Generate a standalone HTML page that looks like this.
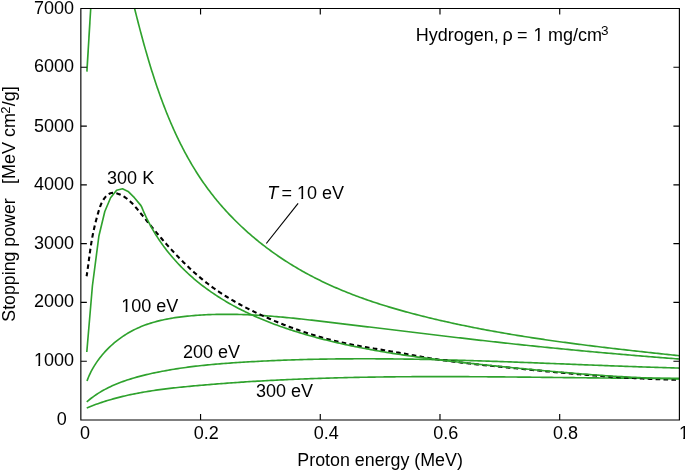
<!DOCTYPE html>
<html><head><meta charset="utf-8"><style>
html,body{margin:0;padding:0;background:#fff;}
svg{display:block;}
text{font-family:"Liberation Sans",sans-serif;font-size:18px;fill:#000;}
</style></head><body>
<svg width="685" height="470" viewBox="0 0 685 470" style="will-change:transform">
<rect width="685" height="470" fill="#fff"/>
<defs><clipPath id="o0" clipPathUnits="userSpaceOnUse"><rect x="32.96" y="350.61" width="12" height="13.05"/><rect x="38.31" y="363.61" width="1.8" height="3"/></clipPath><clipPath id="o1" clipPathUnits="userSpaceOnUse"><rect x="677.90" y="423.80" width="12" height="13.05"/><rect x="683.25" y="436.80" width="1.8" height="3"/></clipPath><clipPath id="o2" clipPathUnits="userSpaceOnUse"><rect x="120.20" y="296.80" width="12" height="13.05"/><rect x="125.55" y="309.80" width="1.8" height="3"/></clipPath><clipPath id="o3" clipPathUnits="userSpaceOnUse"><rect x="296.01" y="183.80" width="12" height="13.05"/><rect x="301.36" y="196.80" width="1.8" height="3"/></clipPath><clipPath id="o4" clipPathUnits="userSpaceOnUse"><rect x="532.40" y="25.60" width="12" height="13.05"/><rect x="537.75" y="38.60" width="1.8" height="3"/></clipPath><clipPath id="c"><rect x="80.85" y="8.5" width="598.55" height="411.5"/></clipPath></defs>
<g clip-path="url(#c)">
<path d="M86.90,71.60 L90.80,7.00" fill="none" stroke="#2fa22d" stroke-width="1.65" />
<path d="M133.04,2.26 L133.46,3.95 L133.89,5.65 L134.31,7.35 L134.73,9.05 L135.16,10.75 L135.59,12.46 L136.02,14.17 L136.45,15.88 L136.89,17.59 L137.33,19.30 L137.77,21.02 L138.21,22.74 L138.66,24.45 L139.10,26.17 L139.55,27.90 L140.01,29.62 L140.46,31.34 L140.92,33.07 L141.38,34.80 L141.85,36.52 L142.32,38.25 L142.79,39.98 L143.26,41.71 L143.74,43.44 L144.22,45.17 L144.70,46.90 L145.19,48.64 L145.68,50.37 L146.18,52.10 L146.68,53.83 L147.18,55.57 L147.69,57.30 L148.20,59.03 L148.71,60.76 L149.23,62.49 L149.76,64.22 L150.28,65.96 L150.81,67.69 L151.35,69.42 L151.89,71.14 L152.44,72.87 L152.99,74.60 L153.54,76.32 L154.10,78.05 L154.66,79.77 L155.23,81.50 L155.80,83.22 L156.38,84.94 L156.97,86.65 L157.56,88.37 L158.15,90.08 L158.75,91.80 L159.36,93.51 L159.97,95.22 L160.58,96.92 L161.20,98.63 L161.83,100.33 L162.46,102.03 L163.10,103.73 L163.75,105.42 L164.40,107.12 L165.06,108.81 L165.72,110.49 L166.39,112.18 L167.06,113.86 L167.75,115.54 L168.43,117.21 L169.13,118.88 L169.83,120.55 L170.54,122.22 L171.25,123.88 L171.97,125.54 L172.70,127.19 L173.44,128.85 L174.18,130.49 L174.93,132.14 L175.69,133.78 L176.45,135.41 L177.22,137.04 L178.00,138.67 L178.78,140.29 L179.58,141.91 L180.38,143.52 L181.19,145.13 L182.00,146.74 L182.83,148.34 L183.66,149.93 L184.50,151.52 L185.34,153.11 L186.20,154.69 L187.06,156.26 L187.94,157.83 L188.82,159.40 L189.71,160.95 L190.60,162.51 L191.51,164.06 L192.42,165.60 L193.35,167.13 L194.28,168.66 L195.22,170.19 L196.17,171.71 L197.13,173.22 L198.09,174.72 L199.07,176.22 L200.05,177.72 L201.05,179.20 L202.05,180.68 L203.07,182.16 L204.09,183.62 L205.12,185.08 L206.16,186.53 L207.22,187.98 L208.28,189.42 L209.35,190.85 L210.43,192.28 L211.52,193.69 L212.62,195.10 L213.73,196.51 L214.85,197.90 L215.97,199.29 L217.11,200.67 L218.26,202.04 L219.41,203.41 L220.57,204.77 L221.75,206.12 L222.93,207.47 L224.12,208.80 L225.32,210.13 L226.52,211.45 L227.74,212.77 L228.97,214.08 L230.20,215.38 L231.44,216.67 L232.69,217.95 L233.95,219.23 L235.21,220.50 L236.48,221.76 L237.77,223.01 L239.06,224.26 L240.35,225.50 L241.66,226.73 L242.97,227.95 L244.29,229.17 L245.62,230.38 L246.95,231.58 L248.29,232.77 L249.64,233.95 L251.00,235.13 L252.36,236.30 L253.73,237.46 L255.11,238.61 L256.50,239.75 L257.89,240.89 L259.29,242.02 L260.69,243.14 L262.10,244.25 L263.52,245.36 L264.95,246.45 L266.38,247.54 L267.81,248.62 L269.26,249.69 L270.71,250.76 L272.16,251.81 L273.62,252.86 L275.09,253.90 L276.56,254.93 L278.04,255.95 L279.53,256.96 L281.02,257.97 L282.52,258.97 L284.02,259.96 L285.53,260.94 L287.04,261.91 L288.56,262.87 L290.08,263.83 L291.61,264.77 L293.14,265.71 L294.68,266.64 L296.22,267.56 L297.77,268.48 L299.32,269.38 L300.88,270.28 L302.44,271.16 L304.01,272.04 L305.58,272.91 L307.16,273.77 L308.74,274.62 L310.32,275.47 L311.91,276.30 L313.50,277.13 L315.10,277.95 L316.70,278.76 L318.31,279.56 L319.91,280.35 L321.53,281.14 L323.14,281.92 L324.77,282.69 L326.39,283.45 L328.02,284.20 L329.65,284.95 L331.29,285.69 L332.93,286.42 L334.57,287.15 L336.21,287.87 L337.86,288.58 L339.52,289.28 L341.17,289.97 L342.83,290.66 L344.50,291.34 L346.16,292.02 L347.83,292.69 L349.50,293.35 L351.18,294.00 L352.85,294.65 L354.54,295.29 L356.22,295.93 L357.91,296.56 L359.59,297.18 L361.29,297.79 L362.98,298.40 L364.68,299.01 L366.38,299.60 L368.08,300.19 L369.78,300.78 L371.49,301.36 L373.20,301.93 L374.91,302.50 L376.62,303.06 L378.34,303.62 L380.06,304.17 L381.77,304.72 L383.50,305.26 L385.22,305.80 L386.94,306.33 L388.67,306.85 L390.40,307.37 L392.13,307.89 L393.86,308.40 L395.60,308.90 L397.33,309.40 L399.07,309.90 L400.81,310.39 L402.55,310.88 L404.29,311.36 L406.03,311.84 L407.77,312.31 L409.52,312.78 L411.26,313.24 L413.01,313.71 L414.76,314.16 L416.51,314.62 L418.26,315.06 L420.01,315.51 L421.76,315.95 L423.51,316.39 L425.26,316.82 L427.02,317.25 L428.77,317.68 L430.52,318.11 L432.28,318.53 L434.03,318.94 L435.79,319.36 L437.55,319.77 L439.30,320.18 L441.06,320.58 L442.82,320.98 L444.57,321.38 L446.33,321.78 L448.09,322.17 L449.85,322.56 L451.61,322.94 L453.37,323.33 L455.13,323.71 L456.89,324.08 L458.65,324.46 L460.41,324.83 L462.17,325.20 L463.93,325.56 L465.70,325.93 L467.46,326.29 L469.22,326.64 L470.98,327.00 L472.75,327.35 L474.51,327.70 L476.28,328.04 L478.04,328.39 L479.81,328.73 L481.57,329.07 L483.34,329.40 L485.10,329.74 L486.87,330.07 L488.64,330.40 L490.41,330.72 L492.17,331.04 L493.94,331.37 L495.71,331.68 L497.48,332.00 L499.25,332.31 L501.02,332.62 L502.79,332.93 L504.56,333.24 L506.33,333.54 L508.10,333.85 L509.87,334.15 L511.64,334.44 L513.41,334.74 L515.18,335.03 L516.96,335.32 L518.73,335.61 L520.50,335.90 L522.28,336.18 L524.05,336.46 L525.82,336.74 L527.60,337.02 L529.37,337.30 L531.15,337.57 L532.92,337.85 L534.70,338.12 L536.48,338.39 L538.25,338.65 L540.03,338.92 L541.81,339.18 L543.58,339.44 L545.36,339.70 L547.14,339.96 L548.92,340.21 L550.69,340.47 L552.47,340.72 L554.25,340.97 L556.03,341.22 L557.81,341.47 L559.59,341.71 L561.37,341.96 L563.15,342.20 L564.93,342.44 L566.71,342.68 L568.49,342.92 L570.28,343.16 L572.06,343.39 L573.84,343.63 L575.62,343.86 L577.41,344.09 L579.19,344.32 L580.97,344.55 L582.75,344.78 L584.54,345.00 L586.32,345.23 L588.11,345.45 L589.89,345.67 L591.68,345.89 L593.46,346.11 L595.25,346.33 L597.03,346.55 L598.82,346.77 L600.60,346.98 L602.39,347.20 L604.18,347.41 L605.96,347.62 L607.75,347.83 L609.54,348.04 L611.33,348.25 L613.11,348.46 L614.90,348.67 L616.69,348.88 L618.48,349.08 L620.27,349.29 L622.06,349.49 L623.85,349.69 L625.63,349.90 L627.42,350.10 L629.21,350.30 L631.00,350.50 L632.80,350.70 L634.59,350.90 L636.38,351.10 L638.17,351.30 L639.96,351.49 L641.75,351.69 L643.54,351.89 L645.33,352.08 L647.13,352.28 L648.92,352.47 L650.71,352.67 L652.50,352.86 L654.30,353.06 L656.09,353.25 L657.88,353.44 L659.68,353.64 L661.47,353.83 L663.26,354.02 L665.06,354.21 L666.85,354.40 L668.65,354.60 L670.44,354.79 L672.24,354.98 L674.03,355.17 L675.83,355.36 L677.62,355.55 L679.42,355.74" fill="none" stroke="#2fa22d" stroke-width="1.65" />
<path d="M86.74,407.95 L88.60,407.19 L90.47,406.45 L92.34,405.73 L94.21,405.02 L96.09,404.34 L97.98,403.67 L99.86,403.01 L101.76,402.38 L103.65,401.76 L105.55,401.16 L107.45,400.57 L109.36,400.00 L111.27,399.44 L113.18,398.90 L115.10,398.37 L117.02,397.86 L118.94,397.36 L120.87,396.88 L122.79,396.41 L124.73,395.95 L126.66,395.51 L128.60,395.07 L130.54,394.65 L132.48,394.25 L134.43,393.85 L136.37,393.47 L138.32,393.09 L140.28,392.73 L142.23,392.38 L144.19,392.04 L146.15,391.71 L148.11,391.38 L150.07,391.07 L152.03,390.77 L154.00,390.47 L155.97,390.19 L157.94,389.91 L159.91,389.64 L161.88,389.37 L163.86,389.12 L165.83,388.87 L167.81,388.63 L169.79,388.39 L171.76,388.16 L173.74,387.94 L175.73,387.72 L177.71,387.50 L179.69,387.30 L181.67,387.09 L183.66,386.89 L185.64,386.70 L187.62,386.50 L189.61,386.31 L191.60,386.13 L193.58,385.94 L195.57,385.76 L197.55,385.59 L199.54,385.41 L201.52,385.23 L203.51,385.06 L205.50,384.89 L207.48,384.72 L209.47,384.56 L211.46,384.40 L213.44,384.23 L215.43,384.07 L217.42,383.92 L219.40,383.76 L221.39,383.61 L223.38,383.46 L225.37,383.31 L227.35,383.16 L229.34,383.02 L231.33,382.87 L233.32,382.73 L235.30,382.60 L237.29,382.46 L239.28,382.32 L241.27,382.19 L243.25,382.06 L245.24,381.93 L247.23,381.80 L249.22,381.68 L251.21,381.55 L253.20,381.43 L255.18,381.31 L257.17,381.19 L259.16,381.08 L261.15,380.96 L263.14,380.85 L265.13,380.74 L267.12,380.63 L269.11,380.52 L271.10,380.42 L273.08,380.32 L275.07,380.21 L277.06,380.11 L279.05,380.01 L281.04,379.92 L283.03,379.82 L285.02,379.73 L287.01,379.64 L289.00,379.55 L290.99,379.46 L292.98,379.37 L294.97,379.29 L296.96,379.20 L298.95,379.12 L300.94,379.04 L302.93,378.96 L304.92,378.89 L306.91,378.81 L308.90,378.74 L310.89,378.66 L312.88,378.59 L314.87,378.52 L316.86,378.45 L318.85,378.39 L320.84,378.32 L322.84,378.26 L324.83,378.20 L326.82,378.13 L328.81,378.07 L330.80,378.02 L332.79,377.96 L334.78,377.90 L336.77,377.85 L338.76,377.80 L340.76,377.75 L342.75,377.70 L344.74,377.65 L346.73,377.60 L348.72,377.55 L350.71,377.51 L352.70,377.47 L354.70,377.42 L356.69,377.38 L358.68,377.34 L360.67,377.30 L362.66,377.27 L364.65,377.23 L366.65,377.20 L368.64,377.16 L370.63,377.13 L372.62,377.10 L374.61,377.07 L376.60,377.04 L378.60,377.01 L380.59,376.98 L382.58,376.96 L384.57,376.93 L386.57,376.91 L388.56,376.89 L390.55,376.86 L392.54,376.84 L394.53,376.82 L396.53,376.80 L398.52,376.79 L400.51,376.77 L402.50,376.75 L404.50,376.74 L406.49,376.72 L408.48,376.71 L410.47,376.70 L412.47,376.69 L414.46,376.68 L416.45,376.67 L418.44,376.66 L420.44,376.65 L422.43,376.65 L424.42,376.64 L426.41,376.63 L428.41,376.63 L430.40,376.63 L432.39,376.62 L434.39,376.62 L436.38,376.62 L438.37,376.62 L440.36,376.62 L442.36,376.62 L444.35,376.62 L446.34,376.63 L448.33,376.63 L450.33,376.63 L452.32,376.64 L454.31,376.64 L456.31,376.65 L458.30,376.65 L460.29,376.66 L462.28,376.67 L464.28,376.68 L466.27,376.68 L468.26,376.69 L470.26,376.70 L472.25,376.71 L474.24,376.72 L476.23,376.74 L478.23,376.75 L480.22,376.76 L482.21,376.77 L484.21,376.79 L486.20,376.80 L488.19,376.81 L490.18,376.83 L492.18,376.84 L494.17,376.86 L496.16,376.88 L498.16,376.89 L500.15,376.91 L502.14,376.93 L504.13,376.94 L506.13,376.96 L508.12,376.98 L510.11,377.00 L512.11,377.02 L514.10,377.03 L516.09,377.05 L518.08,377.07 L520.08,377.09 L522.07,377.11 L524.06,377.13 L526.05,377.15 L528.05,377.17 L530.04,377.19 L532.03,377.22 L534.03,377.24 L536.02,377.26 L538.01,377.28 L540.00,377.30 L542.00,377.32 L543.99,377.34 L545.98,377.37 L547.97,377.39 L549.96,377.41 L551.96,377.43 L553.95,377.45 L555.94,377.48 L557.93,377.50 L559.93,377.52 L561.92,377.54 L563.91,377.57 L565.90,377.59 L567.90,377.61 L569.89,377.63 L571.88,377.65 L573.87,377.68 L575.86,377.70 L577.86,377.72 L579.85,377.74 L581.84,377.76 L583.83,377.78 L585.82,377.80 L587.81,377.83 L589.81,377.85 L591.80,377.87 L593.79,377.89 L595.78,377.91 L597.77,377.93 L599.76,377.95 L601.76,377.97 L603.75,377.99 L605.74,378.01 L607.73,378.02 L609.72,378.04 L611.71,378.06 L613.70,378.08 L615.69,378.10 L617.69,378.11 L619.68,378.13 L621.67,378.15 L623.66,378.16 L625.65,378.18 L627.64,378.19 L629.63,378.21 L631.62,378.22 L633.61,378.24 L635.60,378.25 L637.59,378.26 L639.58,378.28 L641.57,378.29 L643.56,378.30 L645.55,378.31 L647.55,378.32 L649.54,378.33 L651.53,378.34 L653.52,378.35 L655.51,378.36 L657.50,378.37 L659.49,378.37 L661.48,378.38 L663.46,378.39 L665.45,378.39 L667.44,378.40 L669.43,378.40 L671.42,378.41 L673.41,378.41 L675.40,378.41 L677.39,378.41 L679.38,378.41" fill="none" stroke="#2fa22d" stroke-width="1.65" />
<path d="M86.73,401.85 L88.30,400.53 L89.89,399.25 L91.50,398.01 L93.13,396.80 L94.77,395.63 L96.44,394.50 L98.13,393.41 L99.83,392.35 L101.55,391.32 L103.29,390.33 L105.04,389.37 L106.81,388.44 L108.59,387.54 L110.38,386.68 L112.19,385.84 L114.01,385.03 L115.85,384.24 L117.69,383.48 L119.55,382.75 L121.42,382.04 L123.30,381.36 L125.18,380.70 L127.08,380.06 L128.98,379.44 L130.90,378.84 L132.82,378.26 L134.74,377.70 L136.68,377.15 L138.61,376.63 L140.56,376.11 L142.50,375.62 L144.45,375.13 L146.41,374.66 L148.36,374.21 L150.32,373.76 L152.28,373.32 L154.25,372.90 L156.21,372.49 L158.18,372.08 L160.15,371.69 L162.12,371.31 L164.09,370.94 L166.06,370.57 L168.04,370.22 L170.01,369.88 L171.99,369.54 L173.97,369.22 L175.95,368.90 L177.94,368.59 L179.92,368.29 L181.91,368.00 L183.89,367.72 L185.88,367.45 L187.87,367.18 L189.86,366.92 L191.85,366.67 L193.85,366.42 L195.84,366.19 L197.84,365.96 L199.83,365.73 L201.83,365.52 L203.83,365.31 L205.83,365.10 L207.83,364.90 L209.83,364.71 L211.83,364.52 L213.83,364.34 L215.83,364.16 L217.84,363.99 L219.84,363.83 L221.84,363.66 L223.85,363.51 L225.85,363.35 L227.86,363.20 L229.87,363.06 L231.87,362.92 L233.88,362.78 L235.88,362.64 L237.89,362.51 L239.90,362.39 L241.90,362.26 L243.91,362.14 L245.92,362.02 L247.93,361.90 L249.93,361.78 L251.94,361.67 L253.95,361.56 L255.95,361.45 L257.96,361.35 L259.97,361.24 L261.97,361.14 L263.98,361.05 L265.99,360.95 L268.00,360.86 L270.00,360.76 L272.01,360.68 L274.02,360.59 L276.02,360.50 L278.03,360.42 L280.04,360.34 L282.04,360.26 L284.05,360.19 L286.06,360.11 L288.07,360.04 L290.07,359.97 L292.08,359.91 L294.09,359.84 L296.09,359.78 L298.10,359.72 L300.11,359.66 L302.11,359.60 L304.12,359.55 L306.13,359.49 L308.13,359.44 L310.14,359.39 L312.15,359.35 L314.16,359.30 L316.16,359.26 L318.17,359.22 L320.18,359.18 L322.18,359.14 L324.19,359.11 L326.20,359.08 L328.20,359.04 L330.21,359.01 L332.22,358.99 L334.23,358.96 L336.23,358.94 L338.24,358.91 L340.25,358.89 L342.25,358.87 L344.26,358.86 L346.27,358.84 L348.27,358.83 L350.28,358.82 L352.29,358.81 L354.29,358.80 L356.30,358.79 L358.31,358.78 L360.32,358.78 L362.32,358.78 L364.33,358.78 L366.34,358.78 L368.34,358.78 L370.35,358.79 L372.36,358.79 L374.36,358.80 L376.37,358.81 L378.38,358.82 L380.38,358.83 L382.39,358.84 L384.40,358.85 L386.41,358.87 L388.41,358.89 L390.42,358.91 L392.43,358.93 L394.43,358.95 L396.44,358.97 L398.45,358.99 L400.45,359.02 L402.46,359.04 L404.47,359.07 L406.47,359.10 L408.48,359.13 L410.49,359.16 L412.49,359.19 L414.50,359.23 L416.51,359.26 L418.52,359.30 L420.52,359.34 L422.53,359.37 L424.54,359.41 L426.54,359.45 L428.55,359.50 L430.56,359.54 L432.56,359.58 L434.57,359.63 L436.58,359.67 L438.58,359.72 L440.59,359.77 L442.60,359.82 L444.61,359.87 L446.61,359.92 L448.62,359.97 L450.63,360.02 L452.63,360.07 L454.64,360.13 L456.65,360.18 L458.65,360.24 L460.66,360.30 L462.67,360.35 L464.67,360.41 L466.68,360.47 L468.69,360.53 L470.69,360.59 L472.70,360.65 L474.71,360.72 L476.72,360.78 L478.72,360.84 L480.73,360.91 L482.74,360.97 L484.74,361.04 L486.75,361.10 L488.76,361.17 L490.76,361.24 L492.77,361.31 L494.78,361.37 L496.78,361.44 L498.79,361.51 L500.80,361.58 L502.81,361.65 L504.81,361.73 L506.82,361.80 L508.83,361.87 L510.83,361.94 L512.84,362.02 L514.85,362.09 L516.85,362.16 L518.86,362.24 L520.87,362.31 L522.87,362.39 L524.88,362.46 L526.89,362.54 L528.89,362.61 L530.90,362.69 L532.91,362.77 L534.92,362.84 L536.92,362.92 L538.93,363.00 L540.94,363.08 L542.94,363.15 L544.95,363.23 L546.96,363.31 L548.96,363.39 L550.97,363.47 L552.98,363.55 L554.98,363.62 L556.99,363.70 L559.00,363.78 L561.01,363.86 L563.01,363.94 L565.02,364.02 L567.03,364.10 L569.03,364.18 L571.04,364.25 L573.05,364.33 L575.05,364.41 L577.06,364.49 L579.07,364.57 L581.07,364.65 L583.08,364.73 L585.09,364.81 L587.09,364.88 L589.10,364.96 L591.11,365.04 L593.12,365.12 L595.12,365.20 L597.13,365.27 L599.14,365.35 L601.14,365.43 L603.15,365.50 L605.16,365.58 L607.16,365.66 L609.17,365.73 L611.18,365.81 L613.18,365.88 L615.19,365.96 L617.20,366.03 L619.21,366.11 L621.21,366.18 L623.22,366.25 L625.23,366.32 L627.23,366.40 L629.24,366.47 L631.25,366.54 L633.25,366.61 L635.26,366.68 L637.27,366.75 L639.27,366.82 L641.28,366.89 L643.29,366.96 L645.30,367.02 L647.30,367.09 L649.31,367.16 L651.32,367.22 L653.32,367.29 L655.33,367.35 L657.34,367.42 L659.34,367.48 L661.35,367.54 L663.36,367.60 L665.36,367.66 L667.37,367.72 L669.38,367.78 L671.38,367.84 L673.39,367.90 L675.40,367.96 L677.41,368.01 L679.41,368.07" fill="none" stroke="#2fa22d" stroke-width="1.65" />
<path d="M87.00,381.06 L87.70,379.16 L88.45,377.27 L89.25,375.40 L90.11,373.55 L91.01,371.72 L91.97,369.90 L92.97,368.11 L94.01,366.33 L95.11,364.58 L96.24,362.85 L97.42,361.14 L98.64,359.45 L99.90,357.79 L101.19,356.16 L102.53,354.55 L103.90,352.97 L105.31,351.42 L106.76,349.89 L108.23,348.40 L109.74,346.93 L111.28,345.50 L112.85,344.10 L114.45,342.73 L116.08,341.39 L117.73,340.09 L119.41,338.82 L121.11,337.59 L122.84,336.39 L124.59,335.24 L126.35,334.12 L128.14,333.04 L129.95,332.00 L131.77,331.00 L133.61,330.04 L135.47,329.12 L137.34,328.24 L139.22,327.40 L141.12,326.59 L143.04,325.83 L144.96,325.09 L146.90,324.40 L148.85,323.73 L150.81,323.10 L152.79,322.50 L154.77,321.93 L156.76,321.39 L158.76,320.88 L160.77,320.39 L162.79,319.94 L164.82,319.50 L166.85,319.10 L168.89,318.71 L170.93,318.35 L172.98,318.01 L175.03,317.69 L177.09,317.39 L179.15,317.11 L181.22,316.85 L183.29,316.60 L185.36,316.37 L187.43,316.16 L189.50,315.95 L191.57,315.77 L193.64,315.59 L195.71,315.42 L197.79,315.27 L199.86,315.13 L201.93,315.00 L204.00,314.89 L206.08,314.78 L208.15,314.69 L210.22,314.60 L212.29,314.53 L214.37,314.47 L216.44,314.42 L218.51,314.37 L220.58,314.34 L222.66,314.32 L224.73,314.31 L226.80,314.31 L228.87,314.31 L230.95,314.33 L233.02,314.36 L235.09,314.39 L237.17,314.43 L239.24,314.48 L241.31,314.54 L243.38,314.61 L245.46,314.69 L247.53,314.77 L249.60,314.86 L251.67,314.96 L253.75,315.06 L255.82,315.17 L257.89,315.29 L259.96,315.42 L262.04,315.55 L264.11,315.69 L266.18,315.83 L268.25,315.98 L270.32,316.14 L272.40,316.30 L274.47,316.47 L276.54,316.64 L278.61,316.82 L280.68,317.00 L282.75,317.19 L284.82,317.38 L286.90,317.57 L288.97,317.77 L291.04,317.98 L293.11,318.19 L295.18,318.40 L297.25,318.61 L299.32,318.83 L301.39,319.05 L303.46,319.27 L305.53,319.50 L307.60,319.73 L309.67,319.96 L311.73,320.19 L313.80,320.43 L315.87,320.66 L317.94,320.90 L320.01,321.14 L322.07,321.38 L324.14,321.62 L326.21,321.87 L328.28,322.11 L330.34,322.36 L332.41,322.60 L334.48,322.85 L336.54,323.09 L338.61,323.34 L340.67,323.58 L342.74,323.83 L344.80,324.08 L346.87,324.32 L348.93,324.57 L351.00,324.82 L353.06,325.07 L355.13,325.31 L357.19,325.56 L359.25,325.81 L361.32,326.06 L363.38,326.31 L365.44,326.56 L367.51,326.81 L369.57,327.05 L371.63,327.30 L373.69,327.55 L375.76,327.80 L377.82,328.05 L379.88,328.30 L381.94,328.55 L384.00,328.80 L386.07,329.05 L388.13,329.30 L390.19,329.55 L392.25,329.80 L394.31,330.05 L396.37,330.30 L398.43,330.55 L400.50,330.80 L402.56,331.05 L404.62,331.30 L406.68,331.55 L408.74,331.80 L410.80,332.05 L412.86,332.30 L414.92,332.54 L416.98,332.79 L419.04,333.04 L421.10,333.29 L423.16,333.54 L425.22,333.78 L427.28,334.03 L429.34,334.28 L431.40,334.52 L433.47,334.77 L435.53,335.02 L437.59,335.26 L439.65,335.51 L441.71,335.75 L443.77,336.00 L445.83,336.24 L447.89,336.48 L449.95,336.73 L452.01,336.97 L454.07,337.21 L456.13,337.46 L458.19,337.70 L460.25,337.94 L462.32,338.18 L464.38,338.42 L466.44,338.66 L468.50,338.90 L470.56,339.13 L472.62,339.37 L474.68,339.61 L476.75,339.84 L478.81,340.08 L480.87,340.31 L482.93,340.55 L484.99,340.78 L487.06,341.02 L489.12,341.25 L491.18,341.48 L493.24,341.71 L495.31,341.94 L497.37,342.17 L499.43,342.40 L501.50,342.63 L503.56,342.85 L505.63,343.08 L507.69,343.30 L509.75,343.53 L511.82,343.75 L513.88,343.97 L515.95,344.20 L518.01,344.42 L520.08,344.64 L522.14,344.86 L524.21,345.07 L526.28,345.29 L528.34,345.51 L530.41,345.72 L532.48,345.94 L534.54,346.15 L536.61,346.36 L538.68,346.57 L540.74,346.78 L542.81,346.99 L544.88,347.20 L546.95,347.41 L549.02,347.62 L551.08,347.82 L553.15,348.03 L555.22,348.23 L557.29,348.44 L559.36,348.64 L561.43,348.84 L563.49,349.04 L565.56,349.24 L567.63,349.44 L569.70,349.64 L571.77,349.84 L573.84,350.04 L575.91,350.23 L577.98,350.43 L580.05,350.62 L582.12,350.82 L584.19,351.01 L586.26,351.20 L588.33,351.39 L590.40,351.58 L592.47,351.77 L594.54,351.96 L596.61,352.15 L598.68,352.33 L600.75,352.52 L602.82,352.71 L604.89,352.89 L606.96,353.07 L609.03,353.26 L611.10,353.44 L613.17,353.62 L615.24,353.80 L617.31,353.98 L619.38,354.16 L621.45,354.34 L623.52,354.52 L625.59,354.69 L627.66,354.87 L629.73,355.04 L631.80,355.22 L633.87,355.39 L635.94,355.56 L638.01,355.74 L640.08,355.91 L642.15,356.08 L644.22,356.25 L646.29,356.42 L648.36,356.58 L650.43,356.75 L652.50,356.92 L654.57,357.09 L656.64,357.25 L658.70,357.42 L660.77,357.58 L662.84,357.74 L664.91,357.91 L666.98,358.07 L669.05,358.23 L671.12,358.39 L673.18,358.55 L675.25,358.71 L677.32,358.87 L679.39,359.02" fill="none" stroke="#2fa22d" stroke-width="1.65" />
<path d="M86.60,276.28 L86.78,275.13 L86.96,273.97 L87.13,272.81 L87.31,271.64 L87.48,270.47 L87.64,269.30 L87.81,268.13 L87.97,266.95 L88.13,265.77 L88.29,264.59 L88.44,263.41 L88.60,262.22 L88.76,261.04 L88.91,259.85 L89.07,258.67 L89.23,257.48 L89.38,256.29 L89.54,255.10 L89.70,253.92 L89.86,252.73 L90.03,251.55 L90.19,250.36 L90.36,249.18 L90.53,248.00 L90.71,246.82 L90.89,245.65 L91.07,244.48 L91.26,243.31 L91.45,242.14 L91.65,240.98 L91.85,239.82 L92.05,238.66 L92.26,237.51 L92.48,236.36 L92.70,235.21 L92.93,234.06 L93.16,232.91 L93.40,231.77 L93.64,230.62 L93.89,229.48 L94.15,228.33 L94.41,227.19 L94.67,226.04 L94.94,224.90 L95.22,223.75 L95.51,222.60 L95.80,221.45 L96.09,220.30 L96.40,219.15 L96.70,217.99 L97.02,216.83 L97.34,215.67 L97.67,214.50 L98.01,213.34 L98.35,212.16 L98.70,210.99 L99.06,209.81 L99.43,208.63 L99.83,207.46 L100.24,206.29 L100.69,205.13 L101.16,203.99 L101.68,202.86 L102.23,201.75 L102.83,200.66 L103.48,199.59 L104.18,198.56 L104.93,197.56 L105.74,196.62 L106.60,195.74 L107.50,194.96 L108.45,194.27 L109.44,193.70 L110.48,193.27 L111.55,192.98 L112.65,192.86 L113.79,192.87 L114.93,193.01 L116.08,193.25 L117.21,193.56 L118.32,193.92 L119.41,194.33 L120.47,194.78 L121.50,195.27 L122.51,195.79 L123.50,196.36 L124.47,196.95 L125.42,197.58 L126.34,198.24 L127.25,198.93 L128.14,199.65 L129.02,200.39 L129.88,201.16 L130.72,201.95 L131.56,202.76 L132.38,203.59 L133.18,204.44 L133.98,205.31 L134.77,206.19 L135.55,207.08 L136.33,207.99 L137.10,208.90 L137.86,209.82 L138.62,210.75 L139.38,211.68 L140.13,212.62 L140.89,213.56 L141.64,214.49 L142.40,215.43 L143.16,216.36 L143.91,217.30 L144.67,218.24 L145.43,219.17 L146.19,220.10 L146.95,221.04 L147.71,221.97 L148.47,222.90 L149.23,223.83 L149.99,224.76 L150.75,225.69 L151.52,226.61 L152.28,227.54 L153.05,228.46 L153.82,229.39 L154.58,230.31 L155.35,231.23 L156.12,232.15 L156.90,233.07 L157.67,233.98 L158.44,234.90 L159.22,235.81 L160.00,236.72 L160.78,237.63 L161.56,238.54 L162.34,239.44 L163.12,240.35 L163.91,241.25 L164.70,242.15 L165.49,243.05 L166.28,243.94 L167.07,244.83 L167.86,245.73 L168.66,246.61 L169.46,247.50 L170.26,248.38 L171.06,249.27 L171.87,250.14 L172.67,251.02 L173.48,251.89 L174.29,252.76 L175.11,253.63 L175.92,254.50 L176.74,255.36 L177.56,256.22 L178.38,257.08 L179.21,257.93 L180.04,258.78 L180.87,259.63 L181.70,260.47 L182.54,261.31 L183.38,262.15 L184.22,262.98 L185.06,263.81 L185.91,264.64 L186.76,265.46 L187.61,266.28 L188.47,267.10 L189.33,267.91 L190.19,268.72 L191.06,269.52 L191.93,270.32 L192.80,271.12 L193.67,271.91 L194.55,272.70 L195.43,273.49 L196.32,274.27 L197.21,275.04 L198.10,275.82 L199.00,276.58 L199.90,277.35 L200.80,278.11 L201.70,278.86 L202.62,279.61 L203.53,280.36 L204.45,281.10 L205.37,281.83 L206.29,282.56 L207.22,283.29 L208.16,284.01 L209.09,284.73 L210.04,285.44 L210.98,286.14 L211.93,286.85 L212.89,287.54 L213.84,288.23 L214.81,288.92 L215.77,289.60 L216.74,290.27 L217.72,290.94 L218.70,291.61 L219.68,292.27 L220.66,292.93 L221.65,293.58 L222.65,294.22 L223.64,294.86 L224.65,295.50 L225.65,296.13 L226.66,296.76 L227.67,297.38 L228.68,298.00 L229.70,298.61 L230.72,299.22 L231.74,299.83 L232.77,300.43 L233.80,301.02 L234.83,301.62 L235.86,302.20 L236.90,302.79 L237.94,303.37 L238.98,303.94 L240.03,304.51 L241.08,305.08 L242.13,305.64 L243.18,306.20 L244.24,306.76 L245.29,307.31 L246.35,307.85 L247.41,308.40 L248.48,308.94 L249.54,309.48 L250.61,310.01 L251.68,310.54 L252.75,311.06 L253.82,311.59 L254.90,312.10 L255.97,312.62 L257.05,313.13 L258.13,313.64 L259.21,314.15 L260.29,314.65 L261.37,315.15 L262.46,315.64 L263.54,316.14 L264.63,316.63 L265.71,317.11 L266.80,317.60 L267.89,318.08 L268.98,318.56 L270.07,319.03 L271.17,319.50 L272.26,319.97 L273.35,320.43 L274.45,320.90 L275.55,321.35 L276.64,321.81 L277.74,322.26 L278.84,322.71 L279.95,323.16 L281.05,323.60 L282.15,324.04 L283.26,324.48 L284.36,324.91 L285.47,325.34 L286.58,325.77 L287.68,326.19 L288.79,326.61 L289.90,327.03 L291.02,327.44 L292.13,327.85 L293.24,328.26 L294.36,328.66 L295.47,329.06 L296.59,329.46 L297.71,329.85 L298.83,330.24 L299.95,330.63 L301.07,331.02 L302.19,331.40 L303.32,331.77 L304.44,332.15 L305.57,332.52 L306.69,332.89 L307.82,333.25 L308.95,333.61 L310.08,333.97 L311.21,334.32 L312.34,334.67 L313.47,335.02 L314.61,335.36 L315.74,335.70 L316.88,336.04 L318.01,336.37 L319.15,336.70 L320.29,337.03 L321.43,337.35 L322.57,337.67 L323.71,337.99 L324.86,338.30 L326.00,338.61 L327.14,338.91 L328.29,339.21 L329.44,339.51 L330.58,339.81 L331.73,340.10 L332.88,340.39 L334.03,340.67 L335.19,340.95 L336.34,341.23 L337.49,341.50 L338.65,341.77 L339.80,342.04 L340.96,342.30 L342.12,342.56 L343.27,342.82 L344.43,343.07 L345.59,343.32 L346.76,343.56 L347.92,343.80 L349.08,344.04 L350.24,344.28 L351.41,344.51 L352.58,344.74 L353.74,344.96 L354.91,345.19 L356.08,345.41 L357.24,345.63 L358.41,345.84 L359.58,346.06 L360.75,346.27 L361.92,346.48 L363.09,346.69 L364.27,346.89 L365.44,347.10 L366.61,347.30 L367.78,347.50 L368.95,347.71 L370.13,347.90 L371.30,348.10 L372.48,348.30 L373.65,348.50 L374.82,348.69 L376.00,348.89 L377.17,349.08 L378.35,349.27 L379.52,349.47 L380.70,349.66 L381.87,349.85 L383.04,350.05 L384.22,350.24 L385.39,350.43 L386.57,350.63 L387.74,350.82 L388.92,351.02 L390.09,351.21 L391.26,351.41 L392.44,351.61 L393.61,351.81 L394.78,352.00 L395.95,352.21 L397.12,352.41 L398.30,352.61 L399.47,352.82 L400.64,353.02 L401.81,353.23 L402.98,353.44 L404.14,353.65 L405.31,353.87 L406.48,354.08 L407.65,354.30 L408.81,354.51 L409.98,354.73 L411.15,354.94 L412.32,355.16 L413.48,355.37 L414.65,355.59 L415.82,355.80 L416.98,356.02 L418.15,356.23 L419.32,356.44 L420.48,356.65 L421.65,356.85 L422.82,357.06 L423.99,357.26 L425.16,357.46 L426.33,357.65 L427.50,357.85 L428.67,358.04 L429.84,358.23 L431.01,358.42 L432.18,358.60 L433.35,358.78 L434.53,358.96 L435.70,359.14 L436.87,359.32 L438.05,359.49 L439.22,359.67 L440.39,359.84 L441.57,360.01 L442.74,360.17 L443.92,360.34 L445.09,360.50 L446.27,360.66 L447.45,360.82 L448.62,360.98 L449.80,361.13 L450.98,361.29 L452.15,361.44 L453.33,361.59 L454.51,361.74 L455.69,361.89 L456.86,362.04 L458.04,362.18 L459.22,362.33 L460.40,362.47 L461.58,362.61 L462.76,362.75 L463.94,362.89 L465.12,363.03 L466.30,363.16 L467.48,363.30 L468.66,363.43 L469.84,363.57 L471.02,363.70 L472.20,363.83 L473.38,363.96 L474.56,364.09 L475.74,364.22 L476.92,364.35 L478.10,364.48 L479.29,364.60 L480.47,364.73 L481.65,364.85 L482.83,364.98 L484.01,365.10 L485.20,365.22 L486.38,365.35 L487.56,365.47 L488.74,365.59 L489.92,365.71 L491.11,365.83 L492.29,365.95 L493.47,366.07 L494.65,366.19 L495.84,366.31 L497.02,366.43 L498.20,366.55 L499.38,366.67 L500.57,366.79 L501.75,366.91 L502.93,367.03 L504.11,367.15 L505.30,367.26 L506.48,367.38 L507.66,367.50 L508.84,367.62 L510.03,367.74 L511.21,367.86 L512.39,367.98 L513.57,368.10 L514.75,368.21 L515.94,368.33 L517.12,368.45 L518.30,368.57 L519.48,368.69 L520.67,368.80 L521.85,368.92 L523.03,369.04 L524.21,369.15 L525.40,369.27 L526.58,369.39 L527.76,369.50 L528.94,369.62 L530.13,369.74 L531.31,369.85 L532.49,369.97 L533.67,370.08 L534.85,370.20 L536.04,370.31 L537.22,370.43 L538.40,370.54 L539.58,370.66 L540.77,370.77 L541.95,370.88 L543.13,371.00 L544.31,371.11 L545.50,371.22 L546.68,371.33 L547.86,371.45 L549.04,371.56 L550.23,371.67 L551.41,371.78 L552.59,371.89 L553.77,372.00 L554.96,372.11 L556.14,372.22 L557.32,372.33 L558.50,372.43 L559.69,372.54 L560.87,372.65 L562.05,372.76 L563.24,372.86 L564.42,372.97 L565.60,373.07 L566.78,373.18 L567.97,373.28 L569.15,373.39 L570.33,373.49 L571.52,373.60 L572.70,373.70 L573.88,373.80 L575.07,373.90 L576.25,374.00 L577.43,374.10 L578.61,374.20 L579.80,374.30 L580.98,374.40 L582.16,374.50 L583.35,374.60 L584.53,374.69 L585.71,374.79 L586.90,374.89 L588.08,374.98 L589.27,375.08 L590.45,375.17 L591.63,375.26 L592.82,375.36 L594.00,375.45 L595.18,375.54 L596.37,375.63 L597.55,375.72 L598.74,375.81 L599.92,375.90 L601.10,375.98 L602.29,376.07 L603.47,376.16 L604.66,376.24 L605.84,376.33 L607.03,376.41 L608.21,376.50 L609.39,376.58 L610.58,376.66 L611.76,376.74 L612.95,376.82 L614.13,376.90 L615.32,376.98 L616.50,377.06 L617.69,377.13 L618.87,377.21 L620.06,377.29 L621.24,377.36 L622.43,377.43 L623.61,377.51 L624.80,377.58 L625.98,377.65 L627.17,377.72 L628.35,377.79 L629.54,377.86 L630.73,377.92 L631.91,377.99 L633.10,378.05 L634.28,378.12 L635.47,378.18 L636.65,378.24 L637.84,378.31 L639.03,378.37 L640.21,378.43 L641.40,378.48 L642.59,378.54 L643.77,378.60 L644.96,378.65 L646.15,378.71 L647.33,378.76 L648.52,378.81 L649.71,378.87 L650.89,378.92 L652.08,378.97 L653.27,379.01 L654.46,379.06 L655.64,379.11 L656.83,379.15 L658.02,379.19 L659.21,379.24 L660.39,379.28 L661.58,379.32 L662.77,379.36 L663.96,379.40 L665.14,379.43 L666.33,379.47 L667.52,379.50 L668.71,379.54 L669.90,379.57 L671.09,379.60 L672.28,379.63 L673.46,379.66 L674.65,379.69 L675.84,379.71 L677.03,379.74 L678.22,379.76 L679.41,379.78" fill="none" stroke="#000" stroke-width="2.1" stroke-dasharray="4.6 3.31" stroke-dashoffset="0.52"/>
<path d="M86.80,352.00 L92.40,286.00 L98.90,236.00 L104.80,211.50 L110.60,197.70 L116.60,190.20 L122.50,188.80 L128.10,191.40 L134.40,197.70 L140.80,205.40 L141.71,207.02 L142.47,208.89 L143.25,210.74 L144.05,212.59 L144.88,214.42 L145.72,216.24 L146.58,218.05 L147.47,219.85 L148.37,221.64 L149.29,223.41 L150.24,225.18 L151.20,226.93 L152.18,228.67 L153.18,230.40 L154.20,232.11 L155.23,233.81 L156.29,235.50 L157.36,237.18 L158.45,238.85 L159.56,240.50 L160.69,242.14 L161.83,243.77 L162.99,245.38 L164.17,246.98 L165.37,248.57 L166.58,250.15 L167.80,251.71 L169.05,253.26 L170.31,254.79 L171.58,256.32 L172.87,257.82 L174.18,259.32 L175.50,260.80 L176.84,262.27 L178.19,263.72 L179.55,265.16 L180.93,266.59 L182.33,268.00 L183.74,269.40 L185.16,270.78 L186.60,272.15 L188.04,273.50 L189.51,274.84 L190.98,276.17 L192.47,277.48 L193.97,278.78 L195.49,280.06 L197.01,281.33 L198.55,282.58 L200.10,283.82 L201.66,285.04 L203.23,286.25 L204.82,287.44 L206.41,288.62 L208.02,289.78 L209.63,290.93 L211.26,292.07 L212.90,293.19 L214.54,294.30 L216.20,295.39 L217.86,296.47 L219.54,297.54 L221.22,298.59 L222.91,299.63 L224.62,300.66 L226.33,301.67 L228.04,302.67 L229.77,303.66 L231.50,304.64 L233.24,305.60 L234.99,306.54 L236.75,307.48 L238.51,308.40 L240.28,309.31 L242.05,310.21 L243.83,311.10 L245.62,311.97 L247.42,312.83 L249.21,313.68 L251.02,314.52 L252.83,315.35 L254.64,316.16 L256.46,316.96 L258.29,317.75 L260.12,318.53 L261.95,319.30 L263.79,320.06 L265.63,320.81 L267.48,321.55 L269.33,322.28 L271.19,322.99 L273.05,323.70 L274.91,324.40 L276.78,325.09 L278.65,325.77 L280.52,326.43 L282.40,327.09 L284.28,327.75 L286.16,328.39 L288.05,329.02 L289.94,329.65 L291.83,330.26 L293.73,330.87 L295.62,331.47 L297.52,332.06 L299.42,332.65 L301.33,333.22 L303.23,333.79 L305.14,334.35 L307.05,334.91 L308.96,335.46 L310.87,336.00 L312.79,336.53 L314.70,337.06 L316.62,337.58 L318.54,338.09 L320.46,338.59 L322.39,339.09 L324.31,339.59 L326.24,340.07 L328.16,340.55 L330.09,341.03 L332.02,341.49 L333.95,341.95 L335.89,342.41 L337.82,342.86 L339.76,343.30 L341.70,343.74 L343.63,344.17 L345.57,344.60 L347.52,345.02 L349.46,345.43 L351.40,345.84 L353.35,346.24 L355.29,346.64 L357.24,347.04 L359.19,347.42 L361.13,347.81 L363.08,348.19 L365.03,348.56 L366.99,348.93 L368.94,349.29 L370.89,349.65 L372.85,350.01 L374.80,350.36 L376.76,350.71 L378.71,351.05 L380.67,351.39 L382.63,351.72 L384.59,352.05 L386.54,352.38 L388.50,352.70 L390.46,353.02 L392.43,353.33 L394.39,353.64 L396.35,353.95 L398.31,354.25 L400.28,354.55 L402.24,354.85 L404.20,355.14 L406.17,355.43 L408.14,355.71 L410.10,356.00 L412.07,356.28 L414.03,356.55 L416.00,356.83 L417.97,357.10 L419.94,357.36 L421.91,357.63 L423.88,357.89 L425.85,358.15 L427.82,358.40 L429.79,358.66 L431.76,358.91 L433.73,359.16 L435.70,359.40 L437.68,359.65 L439.65,359.89 L441.62,360.13 L443.60,360.36 L445.57,360.60 L447.54,360.83 L449.52,361.06 L451.49,361.29 L453.47,361.52 L455.44,361.74 L457.42,361.96 L459.39,362.18 L461.37,362.40 L463.35,362.62 L465.32,362.84 L467.30,363.05 L469.28,363.26 L471.25,363.48 L473.23,363.69 L475.21,363.90 L477.19,364.10 L479.16,364.31 L481.14,364.52 L483.12,364.72 L485.10,364.93 L487.08,365.13 L489.05,365.33 L491.03,365.53 L493.01,365.73 L494.99,365.93 L496.97,366.13 L498.95,366.33 L500.93,366.53 L502.91,366.73 L504.88,366.93 L506.86,367.12 L508.84,367.32 L510.82,367.52 L512.80,367.71 L514.78,367.91 L516.76,368.10 L518.74,368.30 L520.72,368.49 L522.69,368.68 L524.67,368.87 L526.65,369.07 L528.63,369.26 L530.61,369.44 L532.59,369.63 L534.57,369.82 L536.55,370.01 L538.53,370.19 L540.51,370.38 L542.49,370.56 L544.47,370.74 L546.45,370.93 L548.43,371.11 L550.41,371.29 L552.39,371.46 L554.37,371.64 L556.35,371.82 L558.33,371.99 L560.31,372.16 L562.29,372.34 L564.27,372.51 L566.25,372.68 L568.23,372.84 L570.21,373.01 L572.19,373.17 L574.17,373.34 L576.16,373.50 L578.14,373.66 L580.12,373.81 L582.10,373.97 L584.08,374.13 L586.06,374.28 L588.05,374.43 L590.03,374.58 L592.01,374.73 L593.99,374.87 L595.98,375.02 L597.96,375.16 L599.94,375.30 L601.92,375.43 L603.91,375.57 L605.89,375.70 L607.87,375.84 L609.86,375.96 L611.84,376.09 L613.82,376.22 L615.81,376.34 L617.79,376.46 L619.78,376.58 L621.76,376.69 L623.75,376.81 L625.73,376.92 L627.72,377.03 L629.70,377.13 L631.69,377.24 L633.67,377.34 L635.66,377.44 L637.65,377.53 L639.63,377.63 L641.62,377.72 L643.60,377.81 L645.59,377.89 L647.58,377.98 L649.57,378.06 L651.55,378.13 L653.54,378.21 L655.53,378.28 L657.52,378.35 L659.51,378.41 L661.49,378.47 L663.48,378.53 L665.47,378.59 L667.46,378.64 L669.45,378.69 L671.44,378.74 L673.43,378.79 L675.42,378.83 L677.41,378.86 L679.40,378.90" fill="none" stroke="#2fa22d" stroke-width="1.65" stroke-linejoin="round"/>
</g>
<path d="M80.85,8.5 H679.4 V420.0 H80.85 Z" fill="none" stroke="#000" stroke-width="1.15"/>
<path d="M80.85,361.21 h6 M679.40,361.21 h-6 M80.85,302.43 h6 M679.40,302.43 h-6 M80.85,243.64 h6 M679.40,243.64 h-6 M80.85,184.86 h6 M679.40,184.86 h-6 M80.85,126.07 h6 M679.40,126.07 h-6 M80.85,67.29 h6 M679.40,67.29 h-6 M200.56,420.00 v-6 M200.56,8.50 v6 M320.27,420.00 v-6 M320.27,8.50 v6 M439.98,420.00 v-6 M439.98,8.50 v6 M559.69,420.00 v-6 M559.69,8.50 v6" fill="none" stroke="#000" stroke-width="1.15"/>
<path d="M266.3,243.5 L298.1,203.4" stroke="#000" stroke-width="1.15"/>
<text x="33.96" y="365.61" clip-path="url(#o0)">1</text><text x="43.97" y="365.61">000</text><text x="74.00" y="307.23" text-anchor="end">2000</text><text x="74.00" y="249.04" text-anchor="end">3000</text><text x="74.00" y="190.26" text-anchor="end">4000</text><text x="74.00" y="131.67" text-anchor="end">5000</text><text x="74.00" y="72.09" text-anchor="end">6000</text><text x="74.00" y="13.50" text-anchor="end">7000</text><text x="56.7" y="424.6">0</text>
<text x="79.90" y="438.8">0</text><text x="193.70" y="438.8">0.2</text><text x="313.80" y="438.8">0.4</text><text x="433.20" y="438.8">0.6</text><text x="553.10" y="438.8">0.8</text><text x="678.90" y="438.80" clip-path="url(#o1)">1</text>
<text x="297.3" y="466" textLength="165.55" lengthAdjust="spacingAndGlyphs">Proton energy (MeV)</text>
<text x="415.7" y="40.6">Hydrogen,</text>
<text x="502.6" y="40.6">ρ</text>
<text x="517.0" y="40.6">=</text>
<text x="547.9" y="40.6">mg/cm</text>
<text x="601.1" y="35.1" style="font-size:13.5px">3</text>
<text x="107.1" y="183.6">300 K</text>
<text x="267.2" y="198.8" style="font-style:italic">T</text>
<text x="121.20" y="311.80" clip-path="url(#o2)">1</text><text x="131.21" y="311.8">00 eV</text><text x="281.5" y="198.8">= </text><text x="297.01" y="198.80" clip-path="url(#o3)">1</text><text x="307.02" y="198.8">0 eV</text><text x="533.40" y="40.60" clip-path="url(#o4)">1</text>
<text x="182.9" y="358.1">200 eV</text>
<text x="256.0" y="396.6">300 eV</text>
<g transform="translate(15,0) rotate(-90)">
<text x="-321.7" y="0" textLength="123.4" lengthAdjust="spacingAndGlyphs">Stopping power</text>
<text x="-184.1" y="0">[MeV cm</text>
<text x="-113.8" y="-5" style="font-size:13px">2</text>
<text x="-106.2" y="0">/g]</text>
</g>
</svg>
</body></html>
